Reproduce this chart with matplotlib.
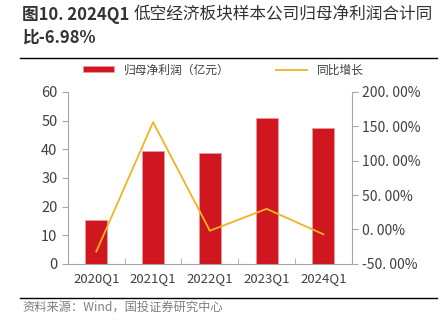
import matplotlib.pyplot as plt
import numpy as np
from matplotlib.ticker import FixedLocator, FuncFormatter

plt.rcParams['font.family'] = ['Noto Sans CJK SC', 'DejaVu Sans']

quarters = ['2020Q1', '2021Q1', '2022Q1', '2023Q1', '2024Q1']
profit = [15.3, 39.3, 38.8, 50.8, 47.3]          # 归母净利润 (亿元)
growth = [-32.0, 156.0, -1.8, 30.0, -6.98]       # 同比增长 (%)

bar_color = '#D0161E'
line_color = '#F0B323'
axis_color = '#A6A6A6'
text_color = '#404040'

fig = plt.figure(figsize=(4.47, 3.27), dpi=100)
ax = fig.add_axes([0.152, 0.193, 0.635, 0.526])
ax2 = ax.twinx()

x = np.arange(len(quarters))
ax.bar(x, profit, width=0.39, color=bar_color, edgecolor='#E89A9E', linewidth=0.6,
       label='归母净利润（亿元）', zorder=2)
ax2.plot(x, growth, color=line_color, linewidth=1.3, label='同比增长', zorder=3)

ax.set_xlim(-0.5, 4.5)
ax.set_ylim(0, 60)
ax.set_yticks(np.arange(0, 61, 10))
ax2.set_ylim(-50, 200)
ax2.set_yticks(np.arange(-50, 201, 50))
ax2.yaxis.set_major_formatter(FuncFormatter(lambda v, p: f'{v:.2f}%'.replace('.', '. ')))

ax.set_xticks(x)
ax.set_xticklabels(quarters)
ax.xaxis.set_minor_locator(FixedLocator(np.arange(-0.5, 4.6, 1)))
ax.tick_params(axis='x', which='major', length=0, labelsize=9.5, pad=6)
ax.tick_params(axis='x', which='minor', length=4, color=axis_color, direction='in')
ax.tick_params(axis='y', length=4, color=axis_color, labelsize=10.5)
ax2.tick_params(axis='y', length=4, color=axis_color, labelsize=10)
for lab in ax.get_yticklabels() + ax.get_xticklabels() + ax2.get_yticklabels():
    lab.set_color(text_color)

for a in (ax, ax2):
    a.spines['top'].set_visible(False)
    for s in ('left', 'right', 'bottom'):
        a.spines[s].set_color(axis_color)
ax.spines['right'].set_visible(False)
ax2.spines['left'].set_visible(False)
ax2.spines['bottom'].set_visible(False)

h1, l1 = ax.get_legend_handles_labels()
h2, l2 = ax2.get_legend_handles_labels()
fig.legend(h1 + h2, l1 + l2, loc='center', bbox_to_anchor=(0.5, 0.786), ncol=2,
           frameon=False, fontsize=8.5, handlelength=2.6, handleheight=0.4,
           columnspacing=4, labelcolor=text_color)

# title: bold figure number, regular Chinese text
t1 = fig.text(0.05, 0.955, '图10. 2024Q1 ', fontsize=12, fontweight='bold',
              color='#333333', va='center')
ax.annotate('低空经济板块样本公司归母净利润合计同', xy=(1, 0.5), xycoords=t1,
            va='center', ha='left', fontsize=12, color='#333333',
            annotation_clip=False)
fig.text(0.05, 0.885, '比-6.98%', fontsize=12, fontweight='bold', color='#333333', va='center')
fig.add_artist(plt.Line2D([0.045, 0.978], [0.823, 0.823], color='black', linewidth=1.0))
fig.add_artist(plt.Line2D([0.045, 0.978], [0.089, 0.089], color='black', linewidth=1.0))
fig.text(0.05, 0.06, '资料来源：Wind，国投证券研究中心', fontsize=8.8, style='italic',
         color='#7F7F7F', va='center')

fig.savefig('out.png', dpi=100)
